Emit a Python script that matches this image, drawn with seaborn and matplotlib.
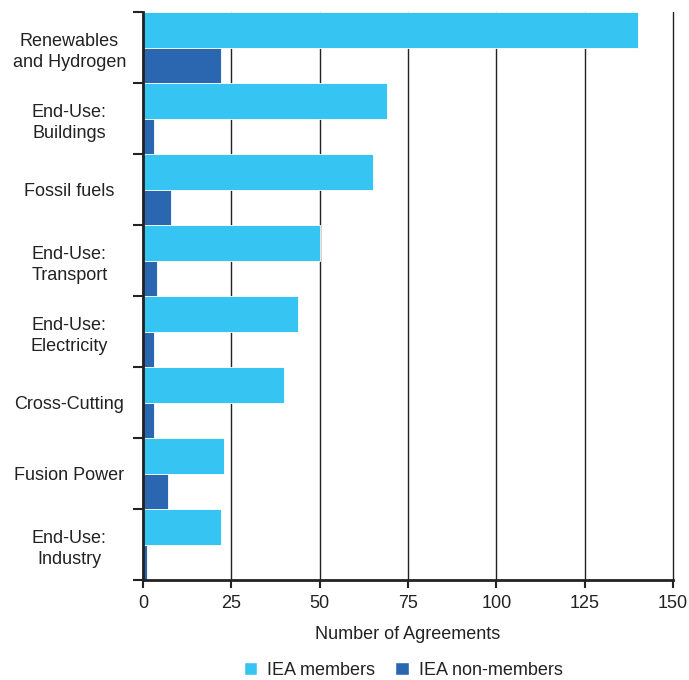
import matplotlib
matplotlib.use("Agg")
import matplotlib.pyplot as plt
import numpy as np
import pandas as pd
import seaborn as sns
from matplotlib.patches import Patch
from matplotlib.ticker import FixedLocator

# Data
categories = [
    "Renewables\nand Hydrogen",
    "End-Use:\nBuildings",
    "Fossil fuels",
    "End-Use:\nTransport",
    "End-Use:\nElectricity",
    "Cross-Cutting",
    "Fusion Power",
    "End-Use:\nIndustry",
]
iea_members = [140, 69, 65, 50, 44, 40, 23, 22]
iea_non_members = [22, 3, 8, 4, 3, 3, 7, 1]
series_names = ["IEA members", "IEA non-members"]
colors = ["#36C5F2", "#2B66B1"]

df = pd.DataFrame(
    {
        "Category": categories * 2,
        "Agreements": iea_members + iea_non_members,
        "Group": [series_names[0]] * len(categories) + [series_names[1]] * len(categories),
    }
)

sns.set_style("white")
plt.rcParams["font.family"] = ["Liberation Sans", "DejaVu Sans"]
fs = 13

fig = plt.figure(figsize=(6.89, 6.80), dpi=100)
ax = fig.add_axes([0.2075, 0.147, 0.7695, 0.835])

sns.barplot(
    data=df,
    x="Agreements",
    y="Category",
    hue="Group",
    order=categories,
    hue_order=series_names,
    palette=colors,
    orient="h",
    width=1.0,
    dodge=True,
    edgecolor="white",
    linewidth=0.6,
    saturation=1,
    legend=False,
    ax=ax,
)

ax.set_xlim(0, 150)
ax.set_ylim(len(categories) - 0.5, -0.5)
ax.set_xticks([0, 25, 50, 75, 100, 125, 150])
ax.xaxis.grid(True, color="#222222", linewidth=1.0)
ax.yaxis.grid(False)
ax.set_axisbelow(True)
for gl in ax.get_xgridlines():
    gl.set_clip_on(False)

# category labels in the middle, tick marks on the boundaries
ax.set_yticks(np.arange(len(categories) + 1) - 0.5)
ax.set_yticklabels([])
ax.yaxis.set_minor_locator(FixedLocator(np.arange(len(categories))))
ax.set_yticklabels(categories, minor=True, fontsize=fs, ha="center", color="#222222", linespacing=1.35)
ax.tick_params(axis="y", which="major", direction="out", length=7, width=1.5, color="#222222", left=True)
ax.tick_params(axis="y", which="minor", length=0, pad=53)
ax.tick_params(axis="x", direction="out", length=6, width=1.5, color="#222222", bottom=True,
               labelsize=fs, labelcolor="#222222", pad=5)

for side in ["top", "right"]:
    ax.spines[side].set_visible(False)
for side in ["left", "bottom"]:
    ax.spines[side].set_color("#222222")
    ax.spines[side].set_linewidth(2)

ax.set_xlabel("Number of Agreements", fontsize=fs, labelpad=10, color="#222222")
ax.set_ylabel("")

handles = [Patch(facecolor=c, label=n) for c, n in zip(colors, series_names)]
fig.legend(
    handles=handles,
    loc="lower center",
    bbox_to_anchor=(0.585, -0.022),
    ncol=2,
    frameon=False,
    fontsize=fs,
    handlelength=0.75,
    handleheight=0.75,
    handletextpad=0.55,
    columnspacing=1.1,
    labelcolor="#222222",
)

fig.savefig("out.png", dpi=100)
